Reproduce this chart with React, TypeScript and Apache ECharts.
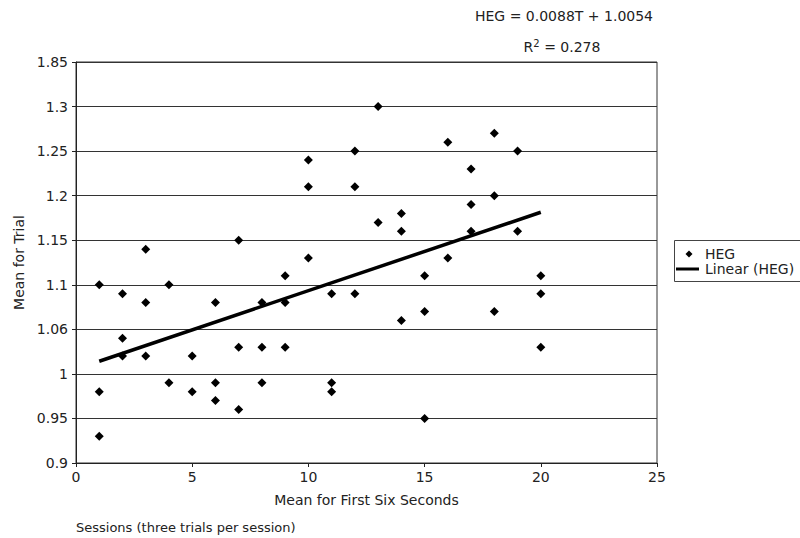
import React, { useEffect, useRef } from "react";
import * as echarts from "echarts";

const sessions = [
  1, 1, 1,
  2, 2, 2,
  3, 3, 3,
  4, 4,
  5, 5,
  6, 6, 6,
  7, 7, 7,
  8, 8, 8,
  9, 9, 9,
  10, 10, 10,
  11, 11, 11,
  12, 12, 12,
  13, 13,
  14, 14, 14,
  15, 15, 15,
  16, 16,
  17, 17, 17,
  18, 18, 18,
  19, 19,
  20, 20, 20,
];
const hegValues = [
  1.1, 0.98, 0.93,
  1.09, 1.04, 1.02,
  1.14, 1.08, 1.02,
  1.1, 0.99,
  1.02, 0.98,
  1.08, 0.99, 0.97,
  1.15, 1.03, 0.96,
  1.08, 1.03, 0.99,
  1.11, 1.08, 1.03,
  1.24, 1.21, 1.13,
  1.09, 0.99, 0.98,
  1.25, 1.21, 1.09,
  1.3, 1.17,
  1.18, 1.16, 1.06,
  1.11, 1.07, 0.95,
  1.26, 1.13,
  1.23, 1.19, 1.16,
  1.27, 1.2, 1.07,
  1.25, 1.16,
  1.11, 1.09, 1.03,
];
const trendX = [1, 20];
const trendY = [1.0142, 1.1814];
const yTickLabels = ["0.9", "0.95", "1", "1.06", "1.1", "1.15", "1.2", "1.25", "1.3", "1.85"];
const xTickLabels = ["0", "5", "10", "15", "20", "25"];

const FONT = "'DejaVu Sans', 'Liberation Sans', Arial, sans-serif";
const TXT = "#222";
const FS = 14;

export default function App() {
  const ref = useRef<HTMLDivElement>(null);
  useEffect(() => {
    if (!ref.current) return;
    const chart = echarts.init(ref.current, null, { renderer: "svg" });
    const scatter = sessions.map((s, i) => [s, hegValues[i]]);
    const trend = trendX.map((x, i) => [x, trendY[i]]);
    chart.setOption({
      animation: false,
      backgroundColor: "#fff",
      textStyle: { fontFamily: FONT },
      grid: {
        left: 76,
        right: 143,
        top: 62,
        bottom: 75,
        show: true,
        borderColor: "#333",
        borderWidth: 1,
        backgroundColor: "transparent",
      },
      xAxis: {
        type: "value",
        min: 0,
        max: 25,
        interval: 5,
        name: "Mean for First Six Seconds",
        nameLocation: "middle",
        nameGap: 30,
        nameTextStyle: { fontSize: FS, color: TXT, fontFamily: FONT },
        axisLine: { show: true, lineStyle: { color: "#222", width: 1 } },
        axisTick: { show: true, length: 4, lineStyle: { color: "#222" } },
        axisLabel: {
          fontSize: FS,
          color: TXT,
          fontFamily: FONT,
          margin: 7,
          formatter: (v: number) => xTickLabels[Math.round(v / 5)] ?? "",
        },
        splitLine: { show: false },
      },
      yAxis: {
        type: "value",
        min: 0.9,
        max: 1.35,
        interval: 0.05,
        name: "Mean for Trial",
        nameLocation: "middle",
        nameGap: 50,
        nameRotate: 90,
        nameTextStyle: { fontSize: FS, color: TXT, fontFamily: FONT },
        axisLine: { show: true, lineStyle: { color: "#222", width: 1 } },
        axisTick: { show: true, length: 4, lineStyle: { color: "#222" } },
        axisLabel: {
          fontSize: FS,
          color: TXT,
          fontFamily: FONT,
          margin: 8,
          formatter: (v: number) => yTickLabels[Math.round((v - 0.9) / 0.05)] ?? "",
        },
        splitLine: { show: true, lineStyle: { color: "#333", width: 1 } },
      },
      series: [
        {
          name: "HEG",
          type: "scatter",
          data: scatter,
          symbol: "diamond",
          symbolSize: 9,
          itemStyle: { color: "#000", opacity: 1 },
          z: 3,
        },
        {
          name: "Linear (HEG)",
          type: "line",
          data: trend,
          showSymbol: false,
          symbol: "none",
          lineStyle: { color: "#000", width: 3.5 },
          z: 4,
        },
      ],
      graphic: [
        {
          type: "text",
          x: 564,
          y: 16,
          style: {
            text: "HEG = 0.0088T + 1.0054",
            fontSize: FS,
            fontFamily: FONT,
            fill: TXT,
            align: "center",
            verticalAlign: "middle",
          },
        },
        {
          type: "text",
          x: 562,
          y: 47,
          style: {
            text: "R{sup|2} = 0.278",
            fontSize: FS,
            fontFamily: FONT,
            fill: TXT,
            align: "center",
            verticalAlign: "middle",
            rich: {
              sup: { fontSize: 10, fontFamily: FONT, fill: TXT, verticalAlign: "top", padding: [0, 0, 8, 0] },
            },
          },
        },
        {
          type: "text",
          x: 76,
          y: 527,
          style: {
            text: "Sessions (three trials per session)",
            fontSize: 13,
            fontFamily: FONT,
            fill: TXT,
            align: "left",
            verticalAlign: "middle",
          },
        },
        {
          type: "rect",
          shape: { x: 674.5, y: 240.5, width: 140, height: 41 },
          style: { fill: "#fff", stroke: "#444", lineWidth: 1 },
        },
        {
          type: "polygon",
          shape: { points: [[689, 250.5], [692.5, 254], [689, 257.5], [685.5, 254]] },
          style: { fill: "#000" },
        },
        {
          type: "line",
          shape: { x1: 676, y1: 269, x2: 699, y2: 269 },
          style: { stroke: "#000", lineWidth: 3 },
        },
        {
          type: "text",
          x: 705,
          y: 254,
          style: { text: "HEG", fontSize: FS, fontFamily: FONT, fill: TXT, verticalAlign: "middle" },
        },
        {
          type: "text",
          x: 705,
          y: 269,
          style: { text: "Linear (HEG)", fontSize: FS, fontFamily: FONT, fill: TXT, verticalAlign: "middle" },
        },
      ],
    });
    return () => chart.dispose();
  }, []);
  return <div ref={ref} style={{ width: 800, height: 538, position: "absolute", left: 0, top: 0 }} />;
}
